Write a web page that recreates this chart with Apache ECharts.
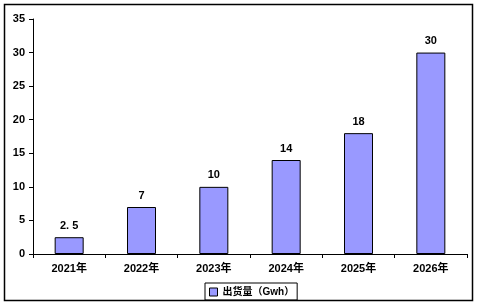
<!DOCTYPE html>
<html>
<head>
<meta charset="utf-8">
<script src="https://cdn.jsdelivr.net/npm/echarts@6/dist/echarts.min.js"></script>
<style>
    html, body { margin: 0; padding: 0; background: #fff; }
    #chart1 { width: 477px; height: 305px; }
</style>
</head>
<body>
<div id="chart1"></div>
<script>
// 出货量数据
var years = ['2021年', '2022年', '2023年', '2024年', '2025年', '2026年'];
var shipments = [2.5, 7, 10, 14, 18, 30];
var seriesName = '出货量（Gwh）';

(function () {
    var myChart = echarts.init(document.querySelector("#chart1"));
    var font = '"Liberation Sans", Arial, "Noto Sans CJK SC", sans-serif';
    option = {
        animation: false,
        textStyle: { fontFamily: font },
        graphic: [{
            type: 'rect',
            shape: { x: 4.5, y: 4.5, width: 468, height: 296 },
            style: { fill: 'none', stroke: '#000', lineWidth: 1.5 },
            silent: true
        }],
        grid: {
            left: 33,
            top: 19,
            right: 10,
            bottom: 51
        },
        legend: {
            bottom: 5,
            left: 205,
            data: [seriesName],
            icon: 'rect',
            itemWidth: 8,
            itemHeight: 8,
            itemGap: 4,
            padding: [4, 3, 3, 4],
            borderColor: '#000',
            borderWidth: 1,
            borderRadius: 0,
            itemStyle: { borderColor: '#000', borderWidth: 1 },
            textStyle: { fontSize: 10, fontWeight: 'bold', color: '#000', fontFamily: font }
        },
        xAxis: {
            type: 'category',
            data: years,
            axisLine: { lineStyle: { color: '#000', width: 1 } },
            axisTick: { show: true, length: 4, inside: false, lineStyle: { color: '#000' } },
            axisLabel: { color: '#000', fontSize: 11, fontWeight: 'bold', margin: 9, fontFamily: font }
        },
        yAxis: {
            type: 'value',
            min: 0,
            max: 35,
            interval: 5,
            splitLine: { show: false },
            axisLine: { show: true, lineStyle: { color: '#000', width: 1 } },
            axisTick: { show: true, length: 4, lineStyle: { color: '#000' } },
            axisLabel: { color: '#000', fontSize: 11, fontWeight: 'bold', margin: 8, fontFamily: font }
        },
        series: [{
            name: seriesName,
            type: 'bar',
            data: shipments,
            barWidth: 29,
            itemStyle: { color: '#9999FF', borderColor: '#000', borderWidth: 1 },
            label: {
                show: true,
                position: 'top',
                distance: 6,
                color: '#000',
                fontSize: 11,
                fontWeight: 'bold',
                fontFamily: font,
                formatter: function (p) { return String(p.value).replace('.', '. '); }
            }
        }]
    };
    myChart.setOption(option);
    window.addEventListener("resize", function () {
        myChart.resize();
    });
})();
</script>
</body>
</html>
